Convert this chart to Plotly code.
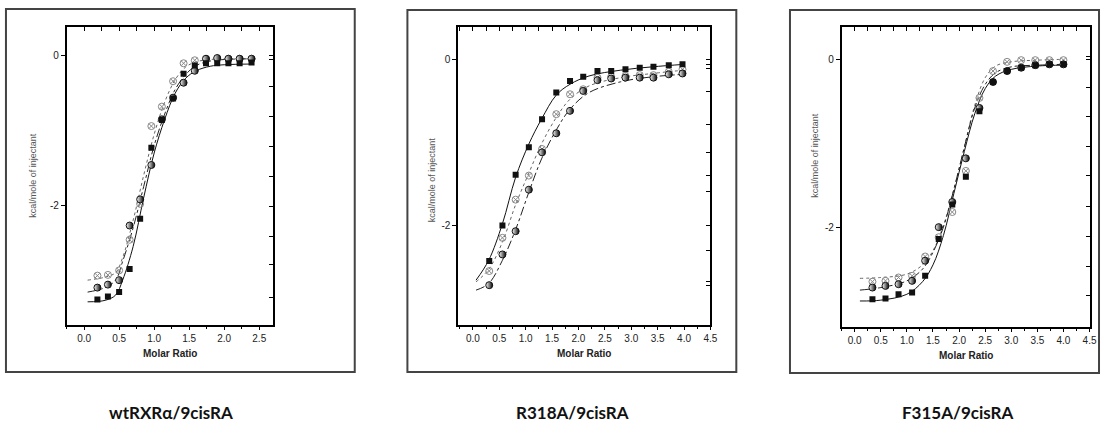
import plotly.graph_objects as go

W, H = 1108, 428

# ---------------- data ----------------
# Panel 1: wtRXRα/9cisRA
p1_x = [0.19, 0.34, 0.50, 0.65, 0.80, 0.96, 1.11, 1.27, 1.42, 1.58, 1.74, 1.90, 2.06, 2.22, 2.39]
p1_sq = [-3.26, -3.22, -3.16, -2.85, -2.18, -1.23, -0.86, -0.57, -0.24, -0.13, -0.10, -0.10, -0.10, -0.10, -0.09]
p1_half = [-3.10, -3.06, -3.00, -2.27, -1.92, -1.46, -0.85, -0.56, -0.36, -0.20, -0.04, -0.03, -0.04, -0.04, -0.04]
p1_gray = [-2.94, -2.93, -2.87, -2.46, -1.98, -0.94, -0.68, -0.34, -0.10, -0.06, -0.04, -0.04, -0.04, -0.04, -0.04]
p1_fit_x = [0.05, 0.30, 0.45, 0.55, 0.70, 0.85, 1.00, 1.15, 1.30, 1.45, 1.60, 1.80, 2.00, 2.40]
p1_fit_sq = [-3.29, -3.27, -3.20, -3.00, -2.55, -1.90, -1.30, -0.85, -0.50, -0.30, -0.20, -0.14, -0.12, -0.11]
p1_fit_half = [-3.16, -3.10, -3.00, -2.75, -2.30, -1.75, -1.20, -0.78, -0.45, -0.25, -0.13, -0.07, -0.05, -0.04]
p1_fit_gray = [-3.00, -2.96, -2.90, -2.70, -2.20, -1.60, -1.05, -0.62, -0.32, -0.15, -0.08, -0.05, -0.04, -0.04]

# Panel 2: R318A/9cisRA
p2_x = [0.31, 0.56, 0.81, 1.06, 1.31, 1.58, 1.84, 2.09, 2.36, 2.62, 2.89, 3.16, 3.42, 3.71, 3.97]
p2_sq = [-2.43, -2.00, -1.39, -1.06, -0.72, -0.40, -0.26, -0.21, -0.14, -0.14, -0.12, -0.10, -0.09, -0.07, -0.06]
p2_half = [-2.72, -2.35, -2.07, -1.57, -1.12, -0.89, -0.62, -0.38, -0.25, -0.23, -0.22, -0.22, -0.22, -0.18, -0.17]
p2_gray = [-2.55, -2.15, -1.69, -1.40, -1.08, -0.66, -0.42, -0.36, -0.22, -0.21, -0.20, -0.19, -0.19, -0.15, -0.12]
p2_fit_x = [0.06, 0.30, 0.56, 0.81, 1.06, 1.30, 1.58, 1.84, 2.20, 2.80, 3.40, 4.00]
p2_fit_sq = [-2.66, -2.42, -1.98, -1.42, -1.02, -0.72, -0.43, -0.30, -0.20, -0.13, -0.09, -0.06]
p2_fit_half = [-2.78, -2.70, -2.42, -2.05, -1.60, -1.20, -0.85, -0.60, -0.40, -0.27, -0.21, -0.18]
p2_fit_gray = [-2.68, -2.53, -2.20, -1.75, -1.37, -1.02, -0.70, -0.48, -0.32, -0.22, -0.17, -0.13]

# Panel 3: F315A/9cisRA
p3_x = [0.34, 0.59, 0.84, 1.10, 1.35, 1.61, 1.87, 2.13, 2.39, 2.65, 2.92, 3.19, 3.46, 3.73, 4.00]
p3_sq = [-2.86, -2.85, -2.80, -2.78, -2.58, -2.14, -1.73, -1.40, -0.62, -0.27, -0.14, -0.10, -0.07, -0.06, -0.06]
p3_half = [-2.72, -2.70, -2.68, -2.64, -2.40, -2.00, -1.70, -1.18, -0.58, -0.27, -0.14, -0.10, -0.07, -0.06, -0.06]
p3_gray = [-2.65, -2.64, -2.60, -2.58, -2.35, -2.12, -1.82, -1.33, -0.46, -0.14, -0.03, -0.01, -0.01, -0.01, -0.01]
p3_fit_x = [0.10, 0.50, 1.00, 1.30, 1.50, 1.70, 1.90, 2.10, 2.30, 2.50, 2.70, 3.00, 3.50, 4.00]
p3_fit_sq = [-2.88, -2.87, -2.80, -2.65, -2.45, -2.10, -1.60, -1.10, -0.65, -0.35, -0.20, -0.12, -0.08, -0.07]
p3_fit_half = [-2.75, -2.72, -2.64, -2.50, -2.30, -2.00, -1.55, -1.05, -0.58, -0.30, -0.16, -0.09, -0.07, -0.06]
p3_fit_gray = [-2.61, -2.60, -2.56, -2.45, -2.28, -1.98, -1.55, -1.05, -0.55, -0.22, -0.08, -0.03, -0.01, 0.00]

panel_titles = ["wtRXRα/9cisRA", "R318A/9cisRA", "F315A/9cisRA"]
x_title = "Molar Ratio"
y_title = "kcal/mole of injectant"
y_tick_vals = [0, -2]
y_tick_text = ["0", "-2"]

# right-side (unlabelled) ticks of each panel
right_ticks = [
    [0.0, -0.05, -0.41, -0.81, -1.21, -1.61, -2.01, -2.42, -2.79, -3.23],
    [0.0, -0.06, -0.11, -0.39, -0.79, -1.12, -1.40, -1.59, -2.0, -2.30, -2.68, -2.72],
    [0.03, 0.0, -0.33, -0.68, -1.04, -1.39, -1.75, -2.11, -2.47, -2.81],
]

# ---------------- layout geometry (pixels) ----------------
plot_px = [  # x0, x1, y0(top), y1(bottom)
    (67, 275, 27, 325),
    (461, 715, 27, 325),
    (847, 1097, 27, 327),
]
frame_px = [
    (6, 357, 9, 372),
    (410, 741, 10, 372),
    (795, 1106, 10, 373),
]
x_ranges = [[-0.25, 2.7], [-0.28, 4.5], [-0.25, 4.51]]
y_ranges = [[-3.6, 0.385], [-3.2, 0.39], [-3.19, 0.385]]
title_cx = [172, 576, 964]
ylab_x = [33, 435, 820]
ylab_y = [175, 180, 155]
xlab_y = [353, 353, 355]

def px(xp):
    return xp / W

def py(yp):
    return 1 - yp / H

panels = [
    (p1_x, p1_sq, p1_half, p1_gray, p1_fit_x, p1_fit_sq, p1_fit_half, p1_fit_gray),
    (p2_x, p2_sq, p2_half, p2_gray, p2_fit_x, p2_fit_sq, p2_fit_half, p2_fit_gray),
    (p3_x, p3_sq, p3_half, p3_gray, p3_fit_x, p3_fit_sq, p3_fit_half, p3_fit_gray),
]

fig = go.Figure()
layout = {}
shapes = []
annotations = []
tickfont = dict(family="Liberation Sans, Arial", size=10, color="#222")

for i, (xs, sq, half, gray, fx, fsq, fhalf, fgray) in enumerate(panels):
    n = i + 1
    xa, ya = f"x{n if n > 1 else ''}", f"y{n if n > 1 else ''}"
    xo, yo = f"x{n + 3}", f"y{n + 3}"
    x0, x1, yt, yb = plot_px[i]

    # fitted curves
    fig.add_trace(go.Scatter(x=fx, y=fgray, mode="lines", line=dict(color="#666", width=1, dash="dot", shape="spline"),
                             xaxis=xa, yaxis=ya, showlegend=False))
    fig.add_trace(go.Scatter(x=fx, y=fhalf, mode="lines", line=dict(color="#222", width=1, dash="dashdot", shape="spline"),
                             xaxis=xa, yaxis=ya, showlegend=False))
    fig.add_trace(go.Scatter(x=fx, y=fsq, mode="lines", line=dict(color="#111", width=1, shape="spline"),
                             xaxis=xa, yaxis=ya, showlegend=False))
    # markers
    fig.add_trace(go.Scatter(x=xs, y=gray, mode="markers",
                             marker=dict(symbol="circle-x-open", size=7, color="#888", line=dict(width=1, color="#888")),
                             xaxis=xa, yaxis=ya, showlegend=False))
    # half-filled circles (light left, dark right)
    fig.add_trace(go.Scatter(x=xs, y=half, mode="markers",
                             marker=dict(symbol="circle", size=7, color="white",
                                         gradient=dict(type="horizontal", color="#000"),
                                         line=dict(width=1, color="#111")),
                             xaxis=xa, yaxis=ya, showlegend=False))
    fig.add_trace(go.Scatter(x=xs, y=sq, mode="markers",
                             marker=dict(symbol="square", size=6, color="#111"),
                             xaxis=xa, yaxis=ya, showlegend=False))
    # dummy trace for overlay axes (top / right ticks)
    fig.add_trace(go.Scatter(x=[None], y=[None], mode="markers", xaxis=xo, yaxis=yo,
                             showlegend=False, hoverinfo="skip"))

    dom_x = [px(x0), px(x1)]
    dom_y = [py(yb), py(yt)]
    key = "" if n == 1 else str(n)
    layout[f"xaxis{key}"] = dict(domain=dom_x, range=x_ranges[i], anchor=ya, showgrid=False, zeroline=False,
                                 showline=True, linecolor="black", linewidth=1.5, mirror=True,
                                 ticks="outside", ticklen=3, tickwidth=1, tickcolor="black",
                                 tick0=0, dtick=0.5, tickformat=".1f", tickfont=tickfont,
                                 minor=dict(dtick=0.25, tick0=0, ticks="outside", ticklen=2, tickcolor="black"))
    layout[f"yaxis{key}"] = dict(domain=dom_y, range=y_ranges[i], anchor=xa, showgrid=False, zeroline=False,
                                 showline=True, linecolor="black", linewidth=1.5, mirror=True,
                                 ticks="outside", ticklen=4, tickwidth=1, tickcolor="black",
                                 tickvals=y_tick_vals, ticktext=y_tick_text, tickfont=tickfont)
    layout[f"xaxis{n + 3}"] = dict(overlaying=xa, side="top", anchor=yo, range=x_ranges[i], showgrid=False,
                                   zeroline=False, showline=False, ticks="inside", ticklen=4,
                                   tickcolor="black", tick0=-0.25, dtick=0.25, showticklabels=False)
    layout[f"yaxis{n + 3}"] = dict(overlaying=ya, side="right", anchor=xo, range=y_ranges[i], showgrid=False,
                                   zeroline=False, showline=False, ticks="inside", ticklen=4,
                                   tickcolor="black", tickvals=right_ticks[i], showticklabels=False)

    fx0, fx1, fy0, fy1 = frame_px[i]
    shapes.append(dict(type="rect", xref="paper", yref="paper", x0=px(fx0), x1=px(fx1), y0=py(fy1), y1=py(fy0),
                       line=dict(color="#444", width=2)))

    annotations.append(dict(text=y_title, xref="paper", yref="paper", x=px(ylab_x[i]), y=py(ylab_y[i]),
                            textangle=-90, showarrow=False, xanchor="center", yanchor="middle",
                            font=dict(family="Liberation Sans, Arial", size=9, color="#555")))
    annotations.append(dict(text=f"<b>{x_title}</b>", xref="paper", yref="paper", x=(px(x0) + px(x1)) / 2,
                            y=py(xlab_y[i]), showarrow=False, xanchor="center", yanchor="middle",
                            font=dict(family="Liberation Sans, Arial", size=10, color="#222")))
    annotations.append(dict(text=f"<b>{panel_titles[i]}</b>", xref="paper", yref="paper", x=px(title_cx[i]),
                            y=py(412), showarrow=False, xanchor="center", yanchor="middle",
                            font=dict(family="Lato, Open Sans", size=17, color="#111")))

fig.update_layout(width=W, height=H, margin=dict(l=0, r=0, t=0, b=0), paper_bgcolor="white",
                  plot_bgcolor="white", shapes=shapes, annotations=annotations, showlegend=False, **layout)

fig.write_html("out.html")
